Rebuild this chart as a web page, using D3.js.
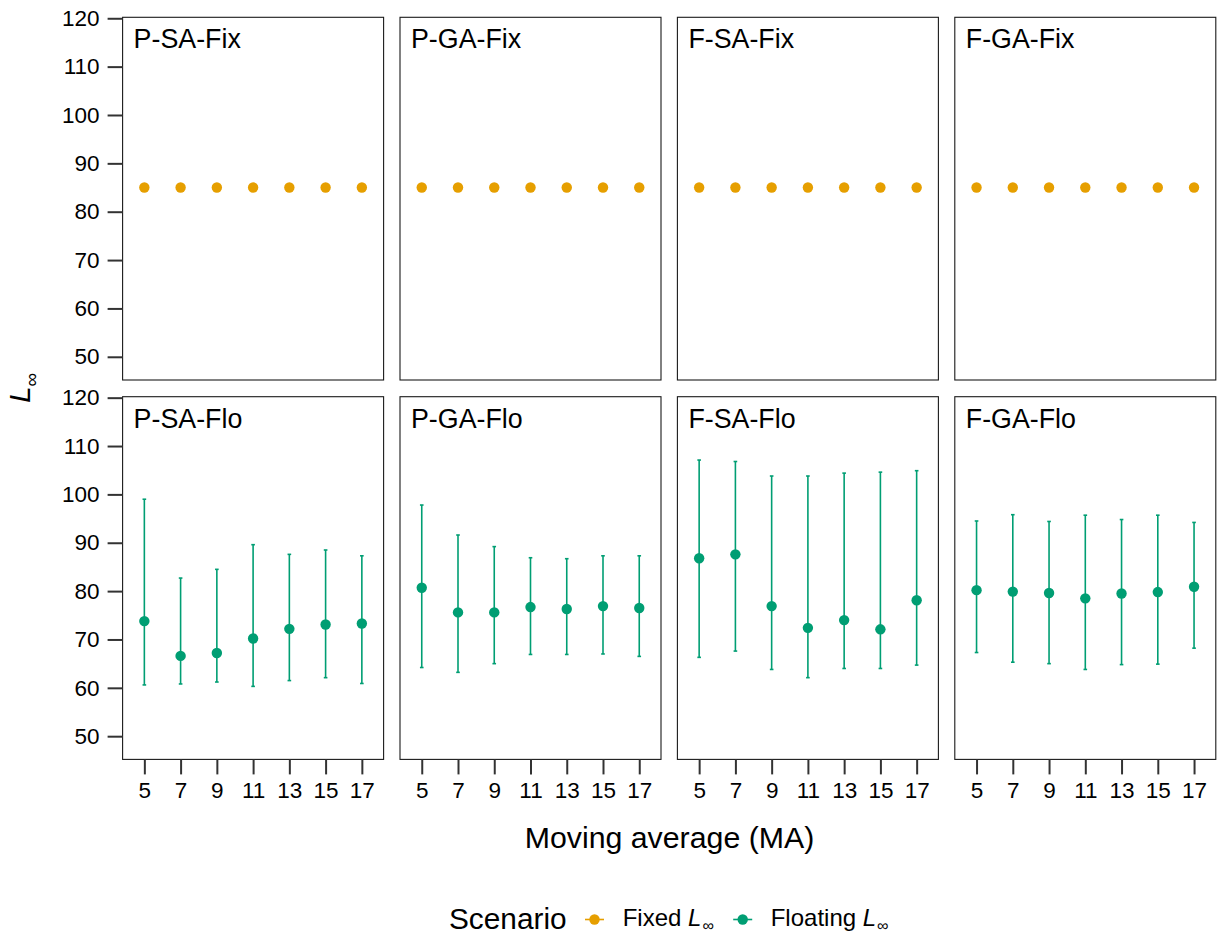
<!DOCTYPE html>
<meta charset="utf-8">
<script src="https://d3js.org/d3.v7.min.js"></script>
<style>
  body { margin: 0; background: #fff; }
  text { font-family: "Liberation Sans", Arial, Helvetica, sans-serif; }
</style>
<div id="chart"></div>

<script>
// moving-average windows (x categories)
var maLevels = [5, 7, 9, 11, 13, 15, 17];

var fixPanels = ["P-SA-Fix", "P-GA-Fix", "F-SA-Fix", "F-GA-Fix"];
var floPanels = ["P-SA-Flo", "P-GA-Flo", "F-SA-Flo", "F-GA-Flo"];

// fixed Linf scenarios (all at 85)
var pSaFix = [85, 85, 85, 85, 85, 85, 85];
var pGaFix = [85, 85, 85, 85, 85, 85, 85];
var fSaFix = [85, 85, 85, 85, 85, 85, 85];
var fGaFix = [85, 85, 85, 85, 85, 85, 85];

// floating Linf scenarios: mean, lower, upper
var pSaFloMean = [73.8, 66.6, 67.2, 70.2, 72.2, 73.1, 73.3];
var pSaFloLow  = [60.6, 60.8, 61.2, 60.3, 61.5, 62.1, 60.9];
var pSaFloHigh = [99.0, 82.7, 84.5, 89.6, 87.6, 88.5, 87.3];

var pGaFloMean = [80.7, 75.6, 75.6, 76.7, 76.3, 76.9, 76.5];
var pGaFloLow  = [64.2, 63.2, 65.0, 66.9, 66.9, 67.0, 66.5];
var pGaFloHigh = [97.8, 91.6, 89.2, 86.9, 86.7, 87.3, 87.3];

var fSaFloMean = [86.8, 87.6, 76.9, 72.4, 74.0, 72.1, 78.1];
var fSaFloLow  = [66.3, 67.6, 63.8, 62.1, 64.0, 64.0, 64.7];
var fSaFloHigh = [107.1, 106.8, 103.8, 103.8, 104.4, 104.6, 104.9];

var fGaFloMean = [80.2, 79.9, 79.6, 78.5, 79.5, 79.8, 80.9];
var fGaFloLow  = [67.3, 65.3, 65.0, 63.8, 64.8, 64.9, 68.2];
var fGaFloHigh = [94.5, 95.8, 94.4, 95.7, 94.8, 95.7, 94.2];

var yTicks = [50, 60, 70, 80, 90, 100, 110, 120];

var colFixed = "#E69F00";
var colFloat = "#009E73";

var fixMeans = [pSaFix, pGaFix, fSaFix, fGaFix];
var floMeans = [pSaFloMean, pGaFloMean, fSaFloMean, fGaFloMean];
var floLows  = [pSaFloLow, pGaFloLow, fSaFloLow, fGaFloLow];
var floHighs = [pSaFloHigh, pGaFloHigh, fSaFloHigh, fGaFloHigh];

var width = 1225, height = 936;
var panelW = 261, panelH = 362.7;
var panelLeft = [122.6, 400, 677.4, 954.8];
var panelTop = [17.3, 396.7];

var svg = d3.select("#chart")
  .append("svg")
    .attr("width", width)
    .attr("height", height);

var x = d3.scaleLinear().domain([3.8, 18.2]).range([0, panelW]);
var y = d3.scaleLinear().domain([45.2, 120.2]).range([panelH, 0]);

function styleAxis(g) {
  g.select(".domain").remove();
  g.selectAll(".tick line").attr("stroke", "#333").attr("stroke-width", 2);
  g.selectAll(".tick text").attr("fill", "#000").style("font-size", "22.5px");
}

for (var row = 0; row < 2; row++) {
  for (var c = 0; c < 4; c++) {
    var g = svg.append("g")
      .attr("transform", "translate(" + panelLeft[c] + "," + panelTop[row] + ")");

    var pts = maLevels.map(function(m, i) {
      return row === 0
        ? {ma: m, mean: fixMeans[c][i]}
        : {ma: m, mean: floMeans[c][i], lo: floLows[c][i], hi: floHighs[c][i]};
    });

    if (row === 1) {
      // error bars
      var eb = g.selectAll(".eb").data(pts).enter().append("g")
        .attr("stroke", colFloat).attr("stroke-width", 1.6);
      eb.append("line")
        .attr("x1", function(d) { return x(d.ma); })
        .attr("x2", function(d) { return x(d.ma); })
        .attr("y1", function(d) { return y(d.lo); })
        .attr("y2", function(d) { return y(d.hi); });
      eb.append("line")
        .attr("x1", function(d) { return x(d.ma - 0.1); })
        .attr("x2", function(d) { return x(d.ma + 0.1); })
        .attr("y1", function(d) { return y(d.hi); })
        .attr("y2", function(d) { return y(d.hi); });
      eb.append("line")
        .attr("x1", function(d) { return x(d.ma - 0.1); })
        .attr("x2", function(d) { return x(d.ma + 0.1); })
        .attr("y1", function(d) { return y(d.lo); })
        .attr("y2", function(d) { return y(d.lo); });
    }

    g.selectAll("circle").data(pts).enter().append("circle")
      .attr("cx", function(d) { return x(d.ma); })
      .attr("cy", function(d) { return y(d.mean); })
      .attr("r", 5.2)
      .attr("fill", row === 0 ? colFixed : colFloat);

    // panel border
    g.append("rect")
      .attr("width", panelW).attr("height", panelH)
      .attr("fill", "none").attr("stroke", "#1a1a1a").attr("stroke-width", 1.1);

    // strip label inside panel
    g.append("text")
      .attr("x", 11).attr("y", 31)
      .style("font-size", "26.8px")
      .text(row === 0 ? fixPanels[c] : floPanels[c]);

    if (c === 0) {
      g.append("g")
        .call(d3.axisLeft(y).tickValues(yTicks).tickSize(15).tickPadding(8))
        .call(styleAxis);
    }
    if (row === 1) {
      g.append("g")
        .attr("transform", "translate(0," + panelH + ")")
        .call(d3.axisBottom(x).tickValues(maLevels).tickSize(15).tickPadding(8)
          .tickFormat(d3.format("d")))
        .call(styleAxis);
    }
  }
}

// axis titles
svg.append("text")
  .attr("x", 669.5).attr("y", 848)
  .attr("text-anchor", "middle")
  .style("font-size", "30.3px")
  .text("Moving average (MA)");

var yl = svg.append("text")
  .attr("transform", "translate(30,388) rotate(-90)")
  .attr("text-anchor", "middle")
  .style("font-size", "30px");
yl.append("tspan").style("font-style", "italic").text("L");
yl.append("tspan").attr("dy", 8).style("font-size", "19px").text("\u221e");

// legend
var lg = svg.append("g");
lg.append("text")
  .attr("x", 449).attr("y", 929)
  .style("font-size", "29.8px")
  .text("Scenario");

var keys = [
  {cx: 594.5, col: colFixed, tx: 622.7, label: "Fixed "},
  {cx: 742.7, col: colFloat, tx: 770.7, label: "Floating "}
];
keys.forEach(function(k) {
  lg.append("line")
    .attr("x1", k.cx - 9.5).attr("x2", k.cx + 9.5)
    .attr("y1", 919.5).attr("y2", 919.5)
    .attr("stroke", k.col).attr("stroke-width", 1.6);
  lg.append("circle")
    .attr("cx", k.cx).attr("cy", 919.5).attr("r", 5.2)
    .attr("fill", k.col);
  var t = lg.append("text")
    .attr("x", k.tx).attr("y", 926)
    .style("font-size", "24px");
  t.append("tspan").text(k.label);
  t.append("tspan").style("font-style", "italic").text("L");
  t.append("tspan").attr("dx", 1).attr("dy", 5).style("font-size", "16px").text("\u221e");
});
</script>
